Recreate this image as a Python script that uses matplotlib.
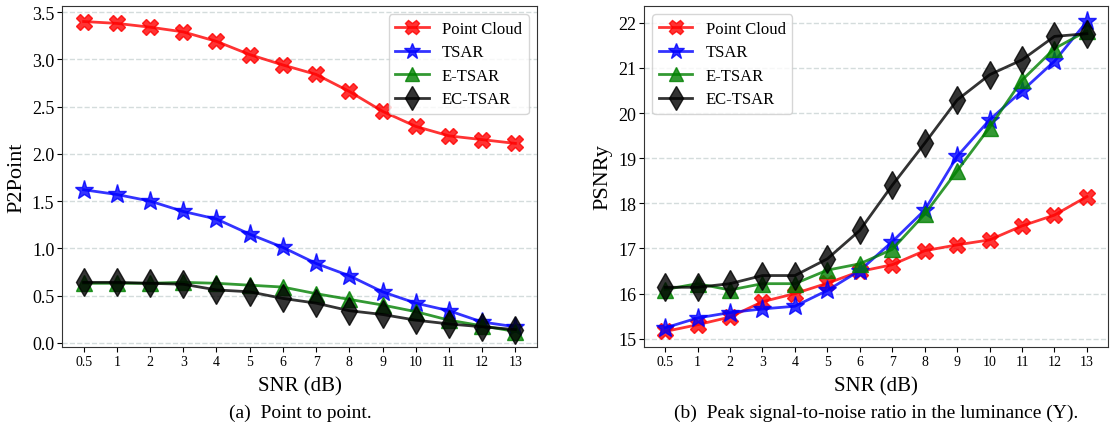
import matplotlib.pyplot as plt

plt.rcParams["font.family"] = ["Liberation Serif", "DejaVu Serif"]

snr_labels = ["0.5", "1", "2", "3", "4", "5", "6", "7", "8", "9", "10", "11", "12", "13"]

# (a) P2Point
p2p_point_cloud = [3.40, 3.38, 3.34, 3.29, 3.19, 3.05, 2.94, 2.84, 2.66, 2.45, 2.29, 2.19, 2.15, 2.11]
p2p_tsar = [1.62, 1.57, 1.50, 1.39, 1.31, 1.15, 1.01, 0.84, 0.71, 0.54, 0.42, 0.34, 0.22, 0.17]
p2p_etsar = [0.63, 0.63, 0.63, 0.64, 0.63, 0.61, 0.59, 0.52, 0.46, 0.40, 0.33, 0.24, 0.18, 0.12]
p2p_ectsar = [0.64, 0.64, 0.63, 0.62, 0.56, 0.54, 0.47, 0.42, 0.34, 0.30, 0.24, 0.20, 0.17, 0.14]

# (b) PSNRy
psnr_point_cloud = [15.16, 15.31, 15.48, 15.82, 16.00, 16.23, 16.49, 16.64, 16.95, 17.08, 17.19, 17.50, 17.74, 18.15]
psnr_tsar = [15.24, 15.46, 15.58, 15.66, 15.72, 16.07, 16.51, 17.15, 17.85, 19.04, 19.85, 20.49, 21.15, 22.03]
psnr_etsar = [16.09, 16.22, 16.08, 16.22, 16.22, 16.52, 16.66, 16.98, 17.76, 18.72, 19.68, 20.73, 21.43, 21.82]
psnr_ectsar = [16.14, 16.14, 16.22, 16.40, 16.40, 16.77, 17.40, 18.40, 19.33, 20.29, 20.85, 21.18, 21.70, 21.76]

series_names = ["Point Cloud", "TSAR", "E-TSAR", "EC-TSAR"]
styles = [
    dict(color="red", marker="X", markersize=12),
    dict(color="blue", marker="*", markersize=14),
    dict(color="green", marker="^", markersize=12),
    dict(color="black", marker="d", markersize=14),
]


def draw_panel(ax, series, ylabel, legend_loc):
    x = range(len(snr_labels))
    for name, values, st in zip(series_names, series, styles):
        ax.plot(x, values, label=name, linewidth=2, alpha=0.8, **st)
    ax.set_xticks(list(x))
    ax.set_xticklabels(snr_labels, fontsize=10)
    ax.tick_params(axis="x", pad=2)
    ax.tick_params(axis="y", labelsize=13, pad=2)
    ax.set_xlabel("SNR (dB)", fontsize=15, labelpad=6)
    ax.set_ylabel(ylabel, fontsize=16, labelpad=4)
    ax.grid(axis="y", linestyle="--", color="#d4dcdc", linewidth=1)
    ax.set_axisbelow(True)
    for spine in ax.spines.values():
        spine.set_color("#333333")
    ax.legend(loc=legend_loc, fontsize=12, framealpha=0.8, markerscale=0.85,
              handlelength=2.0, labelspacing=0.45)


fig = plt.figure(figsize=(11.11, 4.35), dpi=100)
ax1 = fig.add_axes([62 / 1111, 87 / 435, 475 / 1111, 341 / 435])
ax2 = fig.add_axes([644 / 1111, 87 / 435, 464 / 1111, 341 / 435])

draw_panel(ax1, [p2p_point_cloud, p2p_tsar, p2p_etsar, p2p_ectsar], "P2Point", "upper right")
draw_panel(ax2, [psnr_point_cloud, psnr_tsar, psnr_etsar, psnr_ectsar], "PSNRy", "upper left")

fig.text(300 / 1111, 1 - 413 / 435, "(a)  Point to point.", ha="center", va="center", fontsize=14)
fig.text(876 / 1111, 1 - 413 / 435, "(b)  Peak signal-to-noise ratio in the luminance (Y).",
         ha="center", va="center", fontsize=14)

fig.savefig("out.png", dpi=100)
